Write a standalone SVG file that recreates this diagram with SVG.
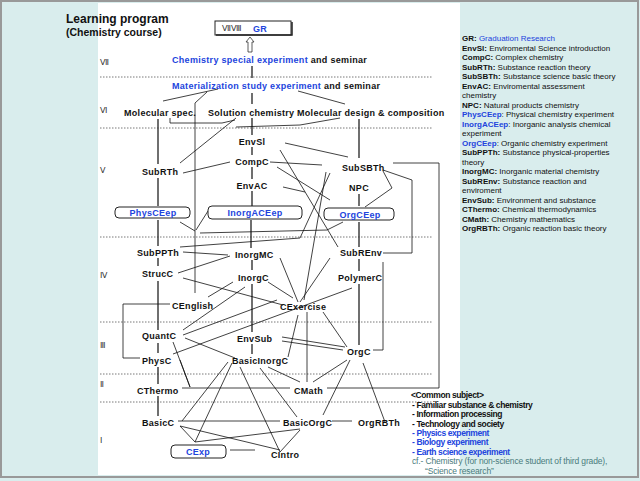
<svg xmlns="http://www.w3.org/2000/svg" width="640" height="481" viewBox="0 0 640 481">
<style>
.n{font-family:"Liberation Sans",Arial,sans-serif;font-size:9px;font-weight:bold;fill:#111;letter-spacing:0.3px}
.r{font-family:"Liberation Serif",serif;font-size:8px;fill:#333}
.lg{font-family:"Liberation Sans",Arial,sans-serif;font-size:8px;fill:#111;letter-spacing:0px}
.lg .k{font-weight:bold}
.cs{font-family:"Liberation Sans",Arial,sans-serif;font-size:8.5px;font-weight:bold;fill:#111;letter-spacing:-0.4px}
.cf{fill:#4a7c7c;font-weight:normal;letter-spacing:-0.15px}
.b,.cs.b,.n.b,.lg .b{fill:#2244dd}
.sp{stroke:#333;stroke-width:1.4;fill:none}
.c{stroke:#111;stroke-width:0.8;fill:none}
.dot{stroke:#555;stroke-width:0.8;stroke-dasharray:1.5 1.5;fill:none}
.bx{fill:#fff;stroke:#222;stroke-width:1}
</style>
<rect x="0" y="0" width="640" height="481" fill="#d9eded"/>
<rect x="98" y="3" width="362" height="472" fill="#fff"/>
<rect x="1" y="1" width="637" height="476" fill="none" stroke="#999" stroke-width="2"/>
<g id="title">
<text x="66" y="23" font-family="Liberation Sans,Arial,sans-serif" font-size="12" font-weight="bold" fill="#111">Learning program</text>
<text x="66" y="36" font-family="Liberation Sans,Arial,sans-serif" font-size="10.5" font-weight="bold" fill="#111">(Chemistry course)</text>
</g>
<g id="levels">
<text class="r" x="100" y="65">Ⅶ</text>
<text class="r" x="100" y="113">Ⅵ</text>
<text class="r" x="100" y="173">Ⅴ</text>
<text class="r" x="100" y="278">Ⅳ</text>
<text class="r" x="100" y="348">Ⅲ</text>
<text class="r" x="100" y="387">Ⅱ</text>
<text class="r" x="100" y="443">Ⅰ</text>
<path class="dot" d="M100 77H432M100 128H432M100 237H432M100 322H432M100 374H432M100 402H432"/>
</g>
<g id="connectors">
<path class="sp" d="M252 66V78M252 93V104M252 118V135M252 147V155M252 167V179M252 191V206M251 220V248M252 260V270M252 284V332M252 344V354"/>
<path class="sp" d="M158 119V164M158 178V206M158 220V246M158 258V266M158 281V330M158 343V353M158 367V384M158 396V416"/>
<path class="sp" d="M359 119V158M359 194V206M359 222V247M359 259V271M359 284V345"/>
<path class="c" d="M170 304H123V358H140"/>
<path class="c" d="M383 170L412 180V253H383"/>
<path class="c" d="M383 262V350H373"/>
<path class="c" d="M393 163H439V388H327"/>
<path class="c" d="M182 388H290"/>
<path class="c" d="M178 421H280"/>
<path class="c" d="M332 421H352"/>
<path class="c" d="M230 450H255"/>
<path class="c" d="M163 101L218 89M195 103L207 92M195 103V293M180 222L195 231M208 211L196 230M343 222L327 230L200 233M345 104L298 91M170 118V123H222L235 120M340 118L300 125L236 127"/>
<path class="c" d="M180 163L236 118M183 173L230 162M270 162L322 165M285 143L348 157M280 150L338 247M277 167L330 200M283 187L305 192"/>
<path class="c" d="M383 171L392 188L365 207"/>
<path class="c" d="M180 247L300 238L330 173M183 252L228 255M326 172L304 300"/>
<path class="c" d="M178 273L230 256M183 278L283 305M208 297L233 282M183 330L245 287M183 335L277 300M173 354L352 288M185 338L235 358"/>
<path class="c" d="M280 258L298 302M268 282L293 298M330 258L300 302M307 312V382M298 315L288 357M323 312L347 347M282 337L345 347M282 341L343 350"/>
<path class="c" d="M173 342L190 387M180 360L190 387M180 426L195 442M195 442L232 363M182 421L228 362M195 442L300 429M240 367L280 452M180 426L280 450M280 452L300 430M260 368L297 417M268 367L300 382M350 360L323 415M347 360L313 382M363 363L385 422"/>
</g>
<g id="GR">
<rect class="bx" x="215" y="21" width="76" height="14"/>
<path d="M216 35H292V22" fill="none" stroke="#222" stroke-width="1.5"/>
<text class="r" x="222" y="31" font-size="7">ⅦⅧ</text>
<text class="n b" x="253" y="32" font-size="10">GR</text>
<path d="M248 52V42H246L250 37L254 42H252V52Z" fill="#fff" stroke="#333" stroke-width="0.8"/>
</g>
<g id="cse"><text class="n" x="172" y="63"><tspan class="b">Chemistry special experiment</tspan> and seminar</text></g>
<g id="mse"><text class="n" x="172" y="89"><tspan class="b">Materialization study experiment</tspan> and seminar</text></g>
<g id="molspec"><text class="n" x="124" y="116">Molecular spec.</text></g>
<g id="solchem"><text class="n" x="208" y="116">Solution chemistry</text></g>
<g id="moldes"><text class="n" x="297" y="116">Molecular design &amp; composition</text></g>
<g id="SubRTh"><text class="n" x="142" y="175">SubRTh</text></g>
<g id="EnvSl"><text class="n" x="252" y="145" text-anchor="middle">EnvSl</text></g>
<g id="CompC"><text class="n" x="252" y="165" text-anchor="middle">CompC</text></g>
<g id="EnvAC"><text class="n" x="252" y="189" text-anchor="middle">EnvAC</text></g>
<g id="SubSBTh"><text class="n" x="342" y="171">SubSBTh</text></g>
<g id="NPC"><text class="n" x="359" y="191" text-anchor="middle">NPC</text></g>
<g id="PhysCEep"><rect class="bx" x="115" y="207" width="75" height="11" rx="4"/><text class="n b" x="153" y="216" text-anchor="middle">PhysCEep</text></g>
<g id="InorgACEep"><rect class="bx" x="208" y="206" width="94" height="13" rx="4"/><text class="n b" x="255" y="216" text-anchor="middle">InorgACEep</text></g>
<g id="OrgCEep"><rect class="bx" x="324" y="208" width="70" height="12" rx="4"/><text class="n b" x="360" y="218" text-anchor="middle">OrgCEep</text></g>
<g id="SubPPTh"><text class="n" x="137" y="256">SubPPTh</text></g>
<g id="StrucC"><text class="n" x="142" y="277">StrucC</text></g>
<g id="CEnglish"><text class="n" x="172" y="309">CEnglish</text></g>
<g id="QuantC"><text class="n" x="142" y="339">QuantC</text></g>
<g id="PhysC"><text class="n" x="142" y="364">PhysC</text></g>
<g id="InorgMC"><text class="n" x="235" y="258">InorgMC</text></g>
<g id="InorgC"><text class="n" x="238" y="281">InorgC</text></g>
<g id="CExercise"><text class="n" x="280" y="310">CExercise</text></g>
<g id="SubREnv"><text class="n" x="340" y="256">SubREnv</text></g>
<g id="PolymerC"><text class="n" x="338" y="281">PolymerC</text></g>
<g id="EnvSub"><text class="n" x="237" y="342">EnvSub</text></g>
<g id="OrgC"><text class="n" x="347" y="355">OrgC</text></g>
<g id="BasicInorgC"><text class="n" x="232" y="364">BasicInorgC</text></g>
<g id="CThermo"><text class="n" x="137" y="394">CThermo</text></g>
<g id="CMath"><text class="n" x="294" y="394">CMath</text></g>
<g id="BasicC"><text class="n" x="142" y="426">BasicC</text></g>
<g id="BasicOrgC"><text class="n" x="283" y="426">BasicOrgC</text></g>
<g id="OrgRBTh"><text class="n" x="358" y="426">OrgRBTh</text></g>
<g id="CExp"><rect class="bx" x="171" y="445" width="55" height="13" rx="4"/><text class="n b" x="198" y="455" text-anchor="middle">CExp</text></g>
<g id="CIntro"><text class="n" x="271" y="458">CIntro</text></g>
<g id="common">
<text class="cs" x="411" y="398">&lt;Common subject&gt;</text>
<text class="cs" x="412" y="408">- Familiar substance &amp; chemistry</text>
<text class="cs" x="412" y="417">- Information processing</text>
<text class="cs" x="412" y="427">- Technology and society</text>
<text class="cs b" x="412" y="436">- Physics experiment</text>
<text class="cs b" x="412" y="445">- Biology experiment</text>
<text class="cs b" x="412" y="455">- Earth science experiment</text>
<text class="cs cf" x="412" y="464">cf.- Chemistry (for non-science student of third grade),</text>
<text class="cs cf" x="425" y="474">“Science research”</text>
</g>
<g id="legend" class="lg">
<text x="462" y="41"><tspan class="k">GR: </tspan><tspan class="b">Graduation Research</tspan></text>
<text x="462" y="50.5"><tspan class="k">EnvSl: </tspan>Enviromental Science introduction</text>
<text x="462" y="60"><tspan class="k">CompC: </tspan>Complex chemistry</text>
<text x="462" y="69.5"><tspan class="k">SubRTh: </tspan>Substance reaction theory</text>
<text x="462" y="79"><tspan class="k">SubSBTh: </tspan>Substance science basic theory</text>
<text x="462" y="88.5"><tspan class="k">EnvAC: </tspan>Enviromental assessment</text>
<text x="462" y="98">chemistry</text>
<text x="462" y="107.5"><tspan class="k">NPC: </tspan>Natural products chemistry</text>
<text x="462" y="117"><tspan class="k b">PhysCEep</tspan>: Physical chemistry experiment</text>
<text x="462" y="126.5"><tspan class="k b">InorgACEep</tspan>: Inorganic analysis chemical</text>
<text x="462" y="136">experiment</text>
<text x="462" y="145.5"><tspan class="k b">OrgCEep</tspan>: Organic chemistry experiment</text>
<text x="462" y="155"><tspan class="k">SubPPTh: </tspan>Substance physical-properties</text>
<text x="462" y="164.5">theory</text>
<text x="462" y="174"><tspan class="k">InorgMC: </tspan>Inorganic material chemistry</text>
<text x="462" y="183.5"><tspan class="k">SubREnv: </tspan>Substance reaction and</text>
<text x="462" y="193">enviroment</text>
<text x="462" y="202.5"><tspan class="k">EnvSub: </tspan>Environment and substance</text>
<text x="462" y="212"><tspan class="k">CThermo: </tspan>Chemical thermodynamics</text>
<text x="462" y="221.5"><tspan class="k">CMath: </tspan>Chemistry mathematics</text>
<text x="462" y="231"><tspan class="k">OrgRBTh: </tspan>Organic reaction basic theory</text>
</g>
</svg>
